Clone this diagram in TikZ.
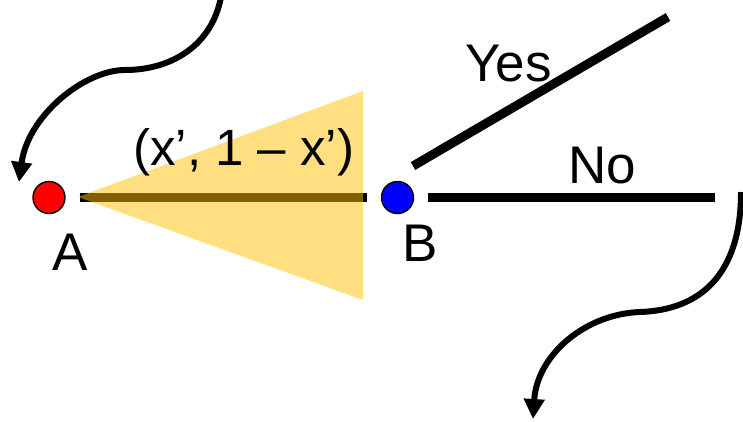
\documentclass[tikz,border=0pt]{standalone}
\usepackage{fontspec}
\setmainfont{Liberation Sans}
\usetikzlibrary{arrows.meta}
\definecolor{gold}{RGB}{255,192,0}
\definecolor{ared}{RGB}{255,0,0}
\definecolor{bblue}{RGB}{0,0,255}
\begin{document}
\begin{tikzpicture}[x=1pt,y=-1pt,
  dot/.style={circle,draw=black,line width=1.4pt,minimum size=32pt,inner sep=0pt},
  bigtxt/.style={inner sep=0pt,font=\fontsize{53}{60}\selectfont},
  labtxt/.style={inner sep=0pt,font=\fontsize{51}{58}\selectfont},
  thickbar/.style={line width=9pt,black},
  curvearrow/.style={line width=6pt,-{Triangle[length=20pt,width=20pt]}}]
\useasboundingbox (0,0) rectangle (743,421);
% base line between A and B
\coordinate (a1) at (80,197);
\coordinate (b1) at (367,197);
\draw[thickbar] (a1) -- (b1);
% shaded cone
\fill[gold,opacity=0.5] (78,197) -- (363,91) -- (363,300) -- cycle;
% nodes
\node[dot,fill=ared] (A) at (49,197.5) {};
\node[dot,fill=bblue] (B) at (397.5,197.5) {};
\node[bigtxt,anchor=base] (Alab) at (70,270) {A};
\node[bigtxt,anchor=base] (Blab) at (420.5,261.7) {B};
\node[labtxt,anchor=base west] (pair) at (133,165) {(x’, 1 – x’)};
% branches
\coordinate (yes0) at (413,166);
\coordinate (yes1) at (668,17);
\coordinate (no0) at (428,197);
\coordinate (no1) at (715,197);
\draw[thickbar] (yes0) -- (yes1);
\draw[thickbar] (no0) -- (no1);
\node[bigtxt,anchor=base west] (yes) at (465,81.7) {Yes};
\node[bigtxt,anchor=base west] (no) at (568,183.3) {No};
% incoming and outgoing curved arrows
\coordinate (in0) at (221,-3);
\coordinate (in1) at (19,182);
\coordinate (out0) at (741,192);
\coordinate (out1) at (533,419);
\draw[curvearrow] (in0) .. controls (212,45) and (172,70) .. (125,70)
   .. controls (85,70) and (28,115) .. (in1);
\draw[curvearrow] (out0) .. controls (741,275) and (700,310) .. (640,312)
   .. controls (585,314) and (537,355) .. (out1);
\end{tikzpicture}
\end{document}
